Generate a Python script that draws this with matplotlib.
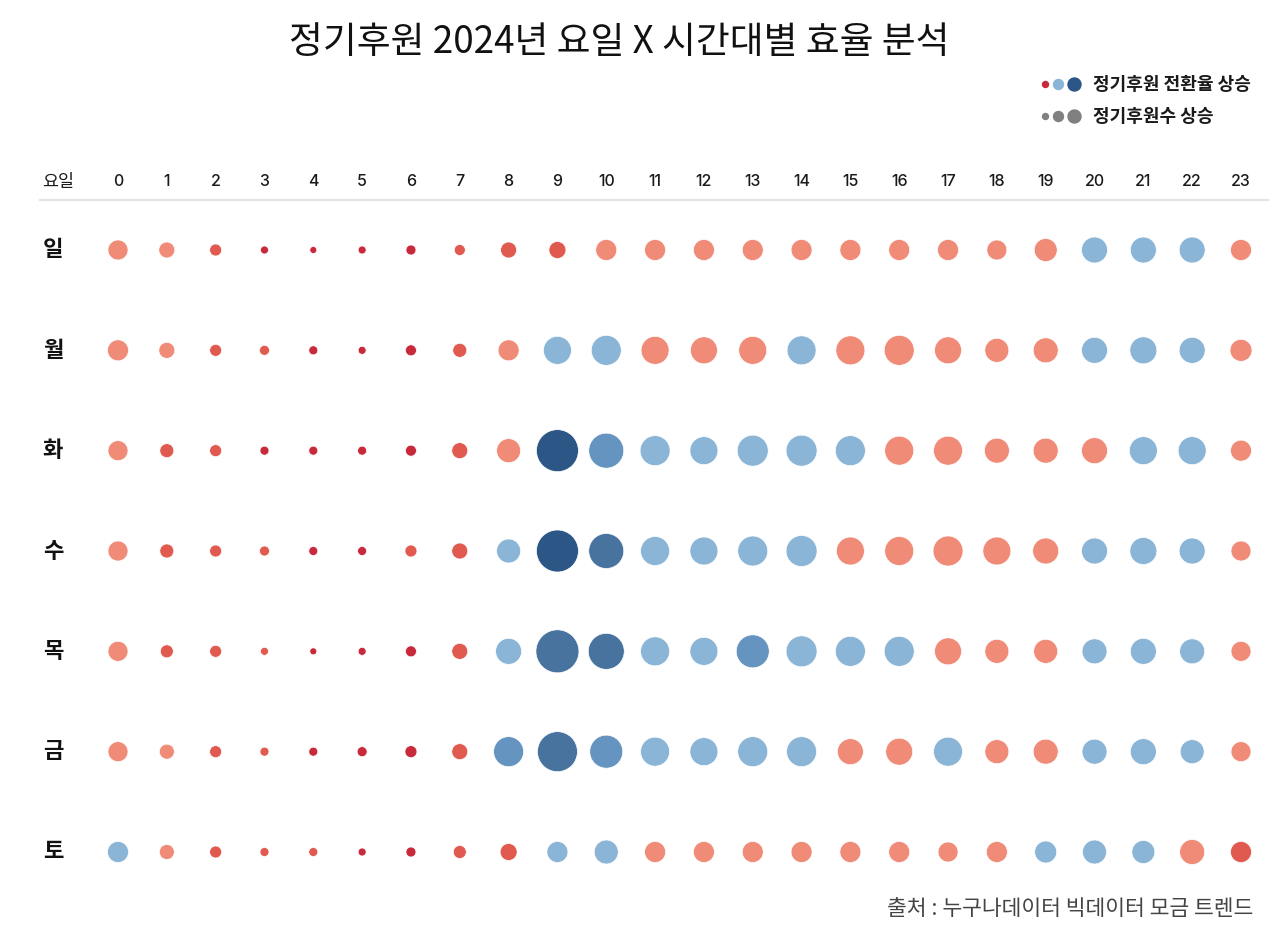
import matplotlib
matplotlib.use("Agg")
import matplotlib.pyplot as plt
from matplotlib.colors import ListedColormap, BoundaryNorm
import numpy as np

plt.rcParams['font.family'] = ['Noto Sans CJK KR', 'DejaVu Sans']

# 요일 / 시간대
days = ['일', '월', '화', '수', '목', '금', '토']
hours = list(range(24))

# 정기후원수 (추정치)
donors_sun = [400, 256, 144, 64, 49, 64, 100, 121, 256, 289, 441, 441, 441, 441, 441, 441, 441, 441, 400, 529, 676, 676, 676, 441]
donors_mon = [441, 256, 144, 100, 81, 64, 121, 196, 441, 784, 900, 784, 729, 784, 841, 841, 900, 729, 576, 625, 676, 729, 676, 484]
donors_tue = [400, 196, 144, 81, 81, 81, 121, 256, 576, 1764, 1225, 900, 784, 961, 961, 900, 841, 841, 625, 625, 676, 784, 784, 441]
donors_wed = [400, 196, 144, 100, 81, 81, 144, 256, 576, 1764, 1225, 841, 784, 900, 961, 784, 841, 900, 784, 676, 676, 729, 676, 400]
donors_thu = [400, 169, 144, 64, 49, 64, 121, 256, 676, 1849, 1296, 841, 784, 1089, 961, 900, 900, 729, 576, 576, 625, 676, 625, 400]
donors_fri = [400, 225, 144, 81, 81, 100, 144, 256, 900, 1600, 1089, 841, 784, 900, 900, 676, 729, 841, 576, 625, 625, 676, 576, 400]
donors_sat = [441, 225, 144, 81, 81, 64, 100, 169, 289, 441, 576, 441, 441, 441, 441, 441, 441, 400, 441, 484, 576, 529, 625, 441]

# 정기후원 전환율 (%, 추정치)
rate_sun = [2.4, 2.4, 1.5, 0.7, 0.7, 0.7, 0.7, 1.5, 1.5, 1.5, 2.4, 2.4, 2.4, 2.4, 2.4, 2.4, 2.4, 2.4, 2.4, 2.4, 3.4, 3.4, 3.4, 2.4]
rate_mon = [2.4, 2.4, 1.5, 1.5, 0.7, 0.7, 0.7, 1.5, 2.4, 3.4, 3.4, 2.4, 2.4, 2.4, 3.4, 2.4, 2.4, 2.4, 2.4, 2.4, 3.4, 3.4, 3.4, 2.4]
rate_tue = [2.4, 1.5, 1.5, 0.7, 0.7, 0.7, 0.7, 1.5, 2.4, 6.5, 4.5, 3.4, 3.4, 3.4, 3.4, 3.4, 2.4, 2.4, 2.4, 2.4, 2.4, 3.4, 3.4, 2.4]
rate_wed = [2.4, 1.5, 1.5, 1.5, 0.7, 0.7, 1.5, 1.5, 3.4, 6.5, 5.4, 3.4, 3.4, 3.4, 3.4, 2.4, 2.4, 2.4, 2.4, 2.4, 3.4, 3.4, 3.4, 2.4]
rate_thu = [2.4, 1.5, 1.5, 1.5, 0.7, 0.7, 0.7, 1.5, 3.4, 5.4, 5.4, 3.4, 3.4, 4.5, 3.4, 3.4, 3.4, 2.4, 2.4, 2.4, 3.4, 3.4, 3.4, 2.4]
rate_fri = [2.4, 2.4, 1.5, 1.5, 0.7, 0.7, 0.7, 1.5, 4.5, 5.4, 4.5, 3.4, 3.4, 3.4, 3.4, 2.4, 2.4, 3.4, 2.4, 2.4, 3.4, 3.4, 3.4, 2.4]
rate_sat = [3.4, 2.4, 1.5, 1.5, 1.5, 0.7, 0.7, 1.5, 1.5, 3.4, 3.4, 2.4, 2.4, 2.4, 2.4, 2.4, 2.4, 2.4, 2.4, 3.4, 3.4, 3.4, 2.4, 1.5]

donors = np.array([donors_sun, donors_mon, donors_tue, donors_wed, donors_thu, donors_fri, donors_sat])
rates = np.array([rate_sun, rate_mon, rate_tue, rate_wed, rate_thu, rate_fri, rate_sat])

colors = ['#c82a3c', '#e15a4f', '#f08b78', '#8ab5d6', '#6494bf', '#48739f', '#2b5685']
cmap = ListedColormap(colors)
norm = BoundaryNorm([0, 1, 2, 3, 4, 5, 6, 7], cmap.N)

W, H = 1280, 940
fig = plt.figure(figsize=(12.8, 9.4), dpi=100)
ax = fig.add_axes([0, 0, 1, 1])
# 0시 -> 118px, 23시 -> 1241px / 일 -> 250px, 토 -> 852px
dx = (1241 - 118) / 23
dy = (852 - 250) / 6
ax.set_xlim(-118 / dx, (W - 118) / dx)
ax.set_ylim((H - 250) / dy, -250 / dy)
ax.axis('off')

xx, yy = np.meshgrid(hours, np.arange(len(days)))
px2pt = 72 / 100
ax.scatter(xx.ravel(), yy.ravel(), s=donors.ravel() * px2pt ** 2,
           c=rates.ravel(), cmap=cmap, norm=norm,
           edgecolors='white', linewidths=0.5, zorder=3)

# header
hy = (182 - 250) / dy
ax.text((58 - 118) / dx, hy, '요일', ha='center', va='center', fontsize=12.5, fontweight='medium', color='#1a1a1a')
for h in hours:
    ax.text(h, hy, str(h), ha='center', va='center', fontsize=11.5, fontweight='medium',
            family=['Inter', 'DejaVu Sans'], color='#1a1a1a')
ax.plot([(40 - 118) / dx, (1268 - 118) / dx], [(200 - 250) / dy] * 2, color='#e3e3e3', lw=1.5)

for i, d in enumerate(days):
    ax.text((53 - 118) / dx, i, d, ha='center', va='center', fontsize=16, fontweight='bold', color='#111111')

# title
fig.text(619 / W, 1 - 42 / H, '정기후원 2024년 요일 X 시간대별 효율 분석', ha='center', va='center',
         fontsize=26.5, fontweight='medium', color='#111111')

# legend
for (lx, sz, col) in [(1045, 6, colors[0]), (1058, 10, colors[3]), (1074, 13, colors[6])]:
    fig.add_artist(plt.Line2D([lx / W], [1 - 84 / H], marker='o', ms=sz * px2pt, color=col, mec=col, ls=''))
for (lx, sz) in [(1045, 6), (1058, 10), (1074, 13)]:
    fig.add_artist(plt.Line2D([lx / W], [1 - 116 / H], marker='o', ms=sz * px2pt, color='#808080', mec='#808080', ls=''))
fig.text(1093 / W, 1 - 84 / H, '정기후원 전환율 상승', ha='left', va='center', fontsize=13, fontweight='bold', color='#1a1a1a')
fig.text(1093 / W, 1 - 116 / H, '정기후원수 상승', ha='left', va='center', fontsize=13, fontweight='bold', color='#1a1a1a')

# source
fig.text(1253 / W, 1 - 909 / H, '출처 : 누구나데이터 빅데이터 모금 트렌드', ha='right', va='center',
         fontsize=15.5, style='italic', fontweight='medium', color='#444444')

fig.savefig('out.png', dpi=100, facecolor='white')
